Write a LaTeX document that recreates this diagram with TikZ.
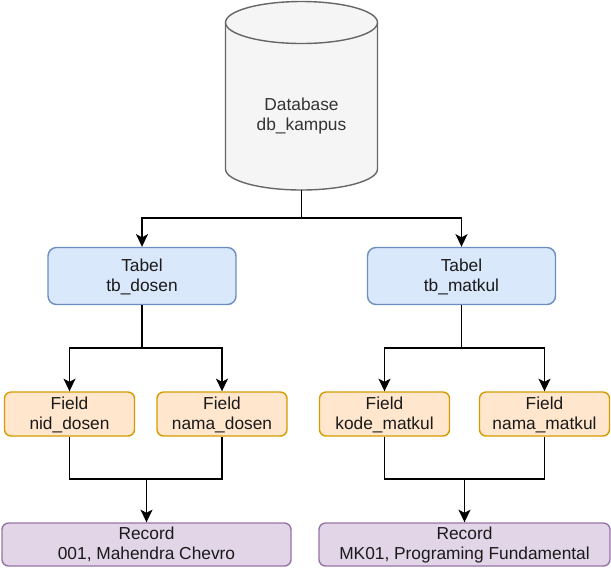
\documentclass[tikz,border=0pt]{standalone}
\usepackage{fontspec}
\setmainfont{Liberation Sans}
\usetikzlibrary{arrows.meta}
\definecolor{bluefill}{HTML}{DAE8FC}
\definecolor{bluestroke}{HTML}{6C8EBF}
\definecolor{orangefill}{HTML}{FFE6CC}
\definecolor{orangestroke}{HTML}{D79B00}
\definecolor{purplefill}{HTML}{E1D5E7}
\definecolor{purplestroke}{HTML}{9673A6}
\definecolor{grayfill}{HTML}{F5F5F5}
\definecolor{graystroke}{HTML}{666666}
\definecolor{dbtext}{HTML}{333333}
\definecolor{boxtext}{HTML}{1A1A1A}
\newcommand\lnstrut{\rule[-3pt]{0pt}{13.5pt}}
\begin{document}
\begin{tikzpicture}[x=0.75pt,y=-0.75pt,
  lbl/.style={align=center,font=\fontsize{13}{15}\selectfont},
  box/.style={lbl,draw,line width=1.05pt,inner sep=0pt,text=boxtext},
  tabelbox/.style={box,fill=bluefill,draw=bluestroke,rounded corners=6.4pt,minimum width=141pt,minimum height=42.75pt},
  fieldbox/.style={box,fill=orangefill,draw=orangestroke,rounded corners=4.9pt,minimum width=97.5pt,minimum height=33pt},
  recordbox/.style={box,fill=purplefill,draw=purplestroke,rounded corners=4.9pt,minimum height=32.25pt},
  dbshape/.style={fill=grayfill,draw=graystroke,line width=1.05pt},
  conn/.style={draw=black,line width=1.05pt},
  arr/.style={conn,-{Stealth[length=9.5pt,width=9pt,inset=2.4pt]}}
]
\useasboundingbox (0,0) rectangle (611,569);
% database cylinder
\path[dbshape] (225.5,22.5) -- (225.5,169) arc[start angle=180,end angle=0,x radius=76,y radius=21]
  -- (377.5,22.5) arc[start angle=0,end angle=-180,x radius=76,y radius=21] -- cycle;
\draw[dbshape,fill=none] (225.5,22.5) arc[start angle=180,end angle=0,x radius=76,y radius=21];
\node[lbl,text=dbtext] (db) at (301.5,115) {\lnstrut Database\\\lnstrut db\_kampus};
\coordinate (dbbot) at (301.5,190);
% tables
\node[tabelbox] (tbd) at (142,276) {\lnstrut Tabel\\\lnstrut tb\_dosen};
\node[tabelbox] (tbm) at (461.5,276) {\lnstrut Tabel\\\lnstrut tb\_matkul};
% fields
\node[fieldbox] (f1) at (69.5,414) {\lnstrut Field\\\lnstrut nid\_dosen};
\node[fieldbox] (f2) at (222,414) {\lnstrut Field\\\lnstrut nama\_dosen};
\node[fieldbox] (f3) at (384.5,414) {\lnstrut Field\\\lnstrut kode\_matkul};
\node[fieldbox] (f4) at (544.5,414) {\lnstrut Field\\\lnstrut nama\_matkul};
% records
\node[recordbox,minimum width=216.75pt] (r1) at (146.5,544.5) {\lnstrut Record\\\lnstrut 001, Mahendra Chevro};
\node[recordbox,minimum width=218.25pt] (r2) at (464.5,544.5) {\lnstrut Record\\\lnstrut MK01, Programing Fundamental};
% junctions
\coordinate (j0) at (301.5,218);
\coordinate (j1) at (142,348);
\coordinate (j2) at (461.5,348);
\coordinate (j3) at (146.5,479);
\coordinate (j4) at (464.5,479);
% connectors
\draw[conn] (dbbot) -- (j0);
\draw[arr] (j0) -| (tbd.north);
\draw[arr] (j0) -| (tbm.north);
\draw[conn] (tbd.south) -- (j1);
\draw[arr] (j1) -| (f1.north);
\draw[arr] (j1) -| (f2.north);
\draw[conn] (tbm.south) -- (j2);
\draw[arr] (j2) -| (f3.north);
\draw[arr] (j2) -| (f4.north);
\draw[conn] (f1.south) |- (j3) -| (f2.south);
\draw[arr] (j3) -- (r1.north);
\draw[conn] (f3.south) |- (j4) -| (f4.south);
\draw[arr] (j4) -- (r2.north);
\end{tikzpicture}
\end{document}
